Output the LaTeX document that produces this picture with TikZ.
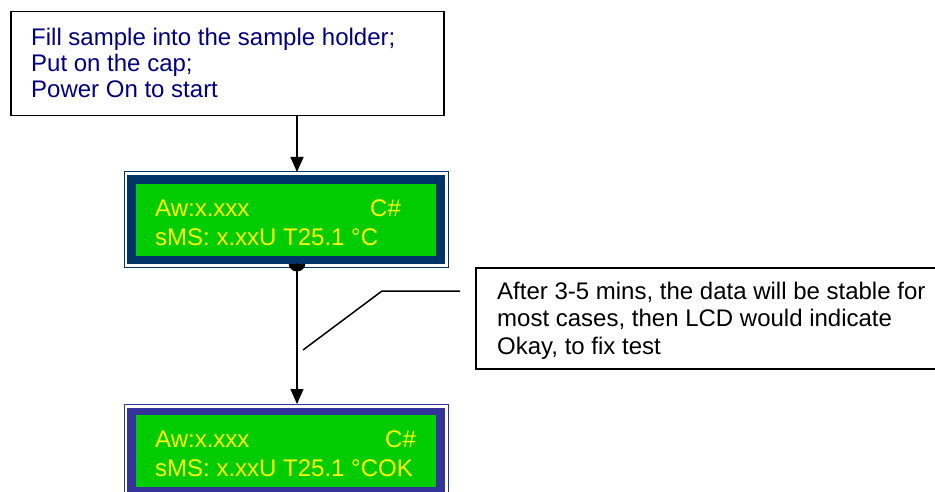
\documentclass[tikz,border=0pt]{standalone}
\usepackage{fontspec}
\setmainfont{Liberation Sans}
\usetikzlibrary{arrows.meta}
\definecolor{txtblue}{RGB}{0,0,128}
\definecolor{lcdgreen}{RGB}{0,204,0}
\definecolor{lcdyellow}{RGB}{255,255,0}
\definecolor{navyA}{RGB}{0,51,102}
\definecolor{navyB}{RGB}{51,51,153}
\begin{document}
\begin{tikzpicture}[x=1pt,y=-1pt,
  box/.style={draw=black, line width=1.5pt, fill=white, inner sep=0pt, anchor=north west},
  rectnode/.style={inner sep=0pt, outer sep=0pt, anchor=north west},
  txt/.style={anchor=base west, inner sep=0pt, font=\fontsize{24}{28}\selectfont},
  lcdtxt/.style={txt, text=lcdyellow},
  arr/.style={line width=1.5pt, -{Triangle[length=15pt,width=13pt]}},
  lead/.style={line width=1.5pt}]
\clip (0,0) rectangle (935,492);
\useasboundingbox (0,0) rectangle (935,492);

% top instruction box
\node[box, minimum width=433pt, minimum height=104pt] (top) at (10,11) {};
\node[txt, text=txtblue] (t1) at (31,45.5) {Fill sample into the sample holder;};
\node[txt, text=txtblue] (t2) at (31,71.5) {Put on the cap;};
\node[txt, text=txtblue] (t3) at (31,97.5) {Power On to start};

% LCD 1
\node[rectnode, draw=navyA, line width=1pt, fill=white, minimum width=324pt, minimum height=95pt] (lcd1) at (124,172) {};
\node[circle, fill=black, inner sep=0pt, minimum size=17pt] (dot) at (297,263) {};
\node[rectnode, fill=navyA, minimum width=317.5pt, minimum height=88pt] (lcd1f) at (127,175.5) {};
\node[rectnode, fill=lcdgreen, minimum width=300pt, minimum height=72pt] (lcd1g) at (136,184) {};
\node[lcdtxt] (l1a) at (155,216) {Aw:x.xxx};
\node[lcdtxt] (l1b) at (370,216) {C\#};
\node[lcdtxt] (l1c) at (155,245) {sMS: x.xxU T25.1 °C};

% LCD 2
\node[rectnode, draw=navyB, line width=1pt, fill=white, minimum width=324pt, minimum height=96pt] (lcd2) at (124,404) {};
\node[rectnode, fill=navyB, minimum width=317.5pt, minimum height=89pt] (lcd2f) at (127,407.5) {};
\node[rectnode, fill=lcdgreen, minimum width=300pt, minimum height=72pt] (lcd2g) at (136,415) {};
\node[lcdtxt] (l2a) at (155,447) {Aw:x.xxx};
\node[lcdtxt] (l2b) at (385,447) {C\#};
\node[lcdtxt] (l2c) at (155,476) {sMS: x.xxU T25.1 °COK};

% callout box
\node[box, minimum width=470pt, minimum height=101pt] (note) at (475,267) {};
\node[txt] (n1) at (497,299) {After 3-5 mins, the data will be stable for};
\node[txt] (n2) at (497,326.5) {most cases, then LCD would indicate};
\node[txt] (n3) at (497,354) {Okay, to fix test};

% connectors
\draw[arr] (top.south -| dot.center) -- (lcd1.north -| dot.center);
\draw[arr] (dot.center) -- (lcd2.north -| dot.center);
\coordinate (c1) at (303,350);
\coordinate (c2) at (382,291);
\coordinate (c3) at (460,291);
\draw[lead] (c1) -- (c2) -- (c3);
\end{tikzpicture}
\end{document}
